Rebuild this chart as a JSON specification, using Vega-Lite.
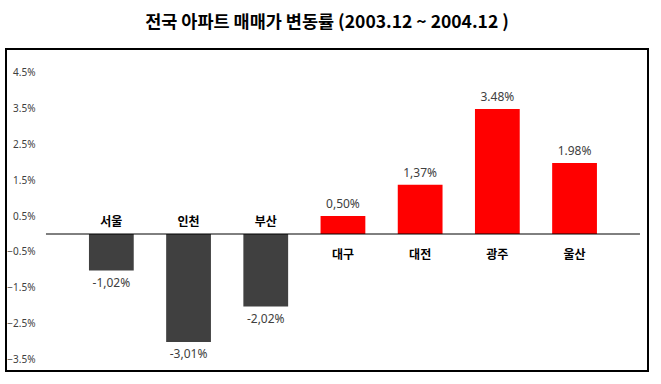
{
  "$schema": "https://vega.github.io/schema/vega-lite/v6.json",
  "width": 642,
  "height": 322,
  "autosize": {"type": "none"},
  "padding": {"left": 6, "top": 49, "right": 13, "bottom": 13},
  "background": "white",
  "config": {
    "font": "Noto Sans CJK KR",
    "view": {"stroke": "black", "strokeWidth": 2}
  },
  "title": {
    "text": "전국 아파트 매매가 변동률 (2003.12 ~ 2004.12 )",
    "fontSize": 17.5,
    "fontWeight": "bold",
    "color": "black",
    "anchor": "middle",
    "offset": 18
  },
  "data": {
    "values": [
      {"region": "서울", "value": -1.02, "label": "-1,02%"},
      {"region": "인천", "value": -3.01, "label": "-3,01%"},
      {"region": "부산", "value": -2.02, "label": "-2,02%"},
      {"region": "대구", "value": 0.50, "label": "0,50%"},
      {"region": "대전", "value": 1.37, "label": "1,37%"},
      {"region": "광주", "value": 3.48, "label": "3.48%"},
      {"region": "울산", "value": 1.98, "label": "1.98%"}
    ]
  },
  "resolve": {"scale": {"x": "independent"}},
  "layer": [
    {
      "layer": [
        {
          "mark": {"type": "bar"},
          "encoding": {
            "y": {
              "field": "value",
              "type": "quantitative",
              "scale": {"domain": [-3.816, 5.153], "nice": false, "zero": false},
              "axis": {
                "values": [4.5, 3.5, 2.5, 1.5, 0.5, -0.5, -1.5, -2.5, -3.5],
                "labelExpr": "format(datum.value, '.1f') + '%'",
                "domain": false,
                "ticks": false,
                "tickSize": 0,
                "grid": false,
                "title": null,
                "offset": -29,
                "labelPadding": 0,
                "labelAlign": "right",
                "labelFontSize": 10,
                "labelColor": "#404040",
                "labelFont": "Noto Sans"
              }
            },
            "y2": {"datum": 0},
            "color": {
              "condition": {"test": "datum.value < 0", "value": "#404040"},
              "value": "#ff0000"
            }
          }
        },
        {
          "transform": [{"filter": "datum.value >= 0"}],
          "mark": {"type": "text", "baseline": "middle", "dy": -12, "fontSize": 12, "color": "#404040", "font": "Noto Sans"},
          "encoding": {
            "y": {"field": "value", "type": "quantitative"},
            "text": {"field": "label"}
          }
        },
        {
          "transform": [{"filter": "datum.value < 0"}],
          "mark": {"type": "text", "baseline": "middle", "dy": 12, "fontSize": 12, "color": "#404040", "font": "Noto Sans"},
          "encoding": {
            "y": {"field": "value", "type": "quantitative"},
            "text": {"field": "label"}
          }
        },
        {
          "transform": [{"filter": "datum.value < 0"}],
          "mark": {"type": "text", "baseline": "middle", "dy": -12, "fontSize": 12, "fontWeight": "bold", "color": "black"},
          "encoding": {
            "y": {"datum": 0, "type": "quantitative"},
            "text": {"field": "region"}
          }
        },
        {
          "transform": [{"filter": "datum.value >= 0"}],
          "mark": {"type": "text", "baseline": "middle", "dy": 21, "fontSize": 12, "fontWeight": "bold", "color": "black"},
          "encoding": {
            "y": {"datum": 0, "type": "quantitative"},
            "text": {"field": "region"}
          }
        }
      ],
      "encoding": {
        "x": {
          "field": "region",
          "type": "nominal",
          "sort": null,
          "scale": {"paddingInner": 0.42, "paddingOuter": 0.868, "align": 0.619},
          "axis": null
        }
      }
    },
    {
      "data": {"values": [{"start": 0, "end": 1, "level": 0}]},
      "mark": {"type": "rule", "color": "black", "strokeWidth": 1},
      "encoding": {
        "x": {"field": "start", "type": "quantitative", "scale": {"domain": [-0.0673, 1.0135], "nice": false, "zero": false}, "axis": null},
        "x2": {"field": "end"},
        "y": {"field": "level", "type": "quantitative"}
      }
    }
  ]
}
